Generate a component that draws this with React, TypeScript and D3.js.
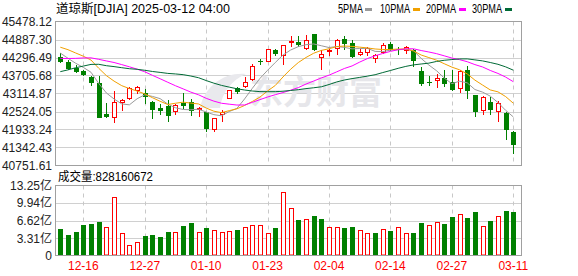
import React, { useEffect } from 'react';
import * as d3 from 'd3';

// ---------- data ----------
const dates = [
  '12-11','12-12','12-13','12-16','12-17','12-18','12-19','12-20','12-23','12-24',
  '12-26','12-27','12-30','12-31','01-02','01-03','01-06','01-07','01-08','01-10',
  '01-13','01-14','01-15','01-16','01-17','01-21','01-22','01-23','01-24','01-27',
  '01-28','01-29','01-30','01-31','02-03','02-04','02-05','02-06','02-07','02-10',
  '02-11','02-12','02-13','02-14','02-18','02-19','02-20','02-21','02-24','02-25',
  '02-26','02-27','02-28','03-03','03-04','03-05','03-06','03-07','03-10','03-11'
];
const opens = [
  44300,44160,43950,43850,43670,43470,42440,42300,42810,42930,
  43210,43140,42850,42630,42690,42510,42800,42850,42560,42500,
  41920,42400,42940,43280,43320,43560,44180,44150,44550,44330,
  44780,44820,44560,45070,44270,44490,44560,44910,44780,44380,
  44450,44250,44440,44745,44580,44510,44530,43840,43480,43520,
  43630,43490,43270,43890,43050,42530,42850,42500,42490,41840
];
const highs = [
  44440,44220,44060,43870,43700,43690,42800,43210,42950,43320,
  43360,43250,42860,42780,42910,42760,43130,42920,42660,42510,
  42320,42580,43240,43320,43650,44090,44240,44570,44560,44720,
  44990,44990,45020,45080,44530,44570,44890,44990,44860,44580,
  44640,44420,44770,44820,44640,44670,44580,43980,43700,43760,
  43870,43890,43870,44020,43080,43020,43000,42870,42510,41870
];
const lows = [
  44120,43880,43800,43700,43360,42300,42300,42140,42540,42900,
  43100,42780,42270,42420,42170,42420,42610,42370,42330,41840,
  41840,42170,42920,43100,43310,43540,44050,44140,44330,44060,
  44640,44640,44550,44520,43880,44340,44380,44550,44290,44330,
  44340,44110,44420,44500,44380,44400,44000,43360,43360,43290,
  43320,43210,43120,42920,42330,42420,42400,42170,41600,41130
];
const closes = [
  44148.56,43914.12,43828.06,43717.48,43449.90,42326.87,42342.24,42840.26,42906.95,43297.03,
  43325.80,42992.21,42573.73,42544.22,42392.27,42732.13,42706.56,42528.36,42635.20,41938.45,
  42297.12,42518.28,43221.55,43153.13,43487.83,44025.81,44156.73,44565.07,44424.25,44713.58,
  44850.35,44713.52,44882.13,44544.66,44421.91,44556.04,44873.28,44747.63,44303.40,44470.41,
  44593.65,44368.56,44711.43,44546.08,44556.34,44627.59,44176.65,43428.02,43461.21,43621.16,
  43433.12,43239.50,43840.91,43191.24,42520.99,43006.59,42579.08,42801.72,41911.71,41433.48
];
// closes of the 29 sessions before the first visible candle (for moving averages)
const priorCloses = [
  42141.54,41763.46,42052.19,41794.60,42221.88,43729.93,43729.34,43988.99,44293.13,43910.98,
  43958.19,43750.86,43444.99,43389.60,43268.94,43408.47,43870.35,44296.51,44736.57,44860.31,
  44722.06,44910.65,44782.00,44705.53,45014.04,44765.71,44642.52,44401.93,44247.83
];
// volume in 亿
const volumes = [
  5.11,3.79,4.54,5.68,5.93,6.25,5.43,11.1,4.29,2.02,
  2.59,3.6,3.79,3.41,4.54,4.48,5.49,6.06,4.48,5.3,
  4.86,4.48,4.67,4.92,5.43,5.81,5.81,4.35,5.3,12.05,
  9.02,6.81,6.94,7.57,7.0,5.43,5.43,5.3,5.43,4.86,
  4.29,4.35,5.05,4.73,5.43,4.35,4.35,6.06,5.81,6.37,
  5.87,7.38,7.89,7.19,8.14,5.62,6.44,7.51,8.33,8.28
];
const priceTicks = [45478.12,44887.30,44296.49,43705.68,43114.87,42524.05,41933.24,41342.43,40751.61];
const volumeTicks = [13.25,9.94,6.62,3.31,0];
const volumeTickLabels = ['13.25亿','9.94亿','6.62亿','3.31亿','0'];
const xTickDates = ['12-16','12-27','01-10','01-23','02-04','02-14','02-27','03-11'];
const maPeriods = [5,10,20,30];
const maNames = ['5PMA','10PMA','20PMA','30PMA'];
const maColors = ['#9a9a9a','#f0a000','#ff00ff','#006a36'];
const titleText = '道琼斯[DJIA] 2025-03-12 04:00';
const volumeText = '成交量:828160672';

// ---------- layout ----------
const W = 578, H = 276;
const PL = 55.5, PR = 521.5;
const PT = 21.5, PB = 165.5;
const VT = 185.5, VB = 255.5;
const RED = '#ff0000', GREEN = '#008000';
const FONT = "'Liberation Sans', Arial, 'Noto Sans CJK SC', sans-serif";

export default function App() {
  useEffect(() => { document.body.style.margin = '0'; }, []);

  const x = d3.scaleLinear().domain([0, dates.length - 1]).range([60.3, 513.3]);
  const y = d3.scaleLinear().domain([priceTicks[priceTicks.length - 1], priceTicks[0]]).range([PB, PT]);
  const vy = d3.scaleLinear().domain([0, volumeTicks[0]]).range([VB, VT]);

  const all = priorCloses.concat(closes);
  const off = priorCloses.length;
  const mas = maPeriods.map(p =>
    closes.map((_, i) => {
      const end = off + i + 1;
      return d3.mean(all.slice(end - p, end)) as number;
    })
  );
  const line = d3.line<number>().x((_, i) => x(i)).y(d => y(d));

  const px = (i: number) => Math.round(x(i));
  const tickIdx = xTickDates.map(d => dates.indexOf(d));

  return (
    <svg width={W} height={H} style={{ position: 'absolute', left: 0, top: 0, display: 'block', background: '#fff' }}
      fontFamily={FONT}>
      <defs>
        <clipPath id="pc"><rect x={PL} y={PT} width={PR - PL} height={PB - PT} /></clipPath>
      </defs>
      <rect x={0} y={0} width={W} height={H} fill="#fff" />

      {/* title */}
      <text x={56} y={12.5} fontSize={12} fill="#000" textLength={174} lengthAdjust="spacingAndGlyphs">{titleText}</text>

      {/* legend */}
      {[
        [338, 365], [380, 413], [426, 459], [472, 505]
      ].map(([tx, sx], k) => (
        <g key={k}>
          <text x={tx} y={13} fontSize={12} fill="#000" textLength={k === 0 ? 25 : 30} lengthAdjust="spacingAndGlyphs">{maNames[k]}</text>
          <rect x={sx} y={8} width={7} height={3} fill={maColors[k]} />
        </g>
      ))}

      {/* price grid */}
      {priceTicks.map((t, k) => (
        <g key={k}>
          {k > 0 && k < priceTicks.length - 1 && (
            <line x1={PL} x2={PR} y1={Math.round(y(t)) + 0.5} y2={Math.round(y(t)) + 0.5} stroke="#d0d0d0" />
          )}
          <text x={52} y={y(t) + 4.5} fontSize={12} textAnchor="end" fill="#222">{t.toFixed(2)}</text>
        </g>
      ))}
      {tickIdx.map((i, k) => (
        <line key={k} x1={px(i) + 0.5} x2={px(i) + 0.5} y1={PT} y2={PB} stroke="#c8c8c8" strokeDasharray="4,4" />
      ))}

      {/* watermark */}
      <text x={250} y={104} fontSize={33} fontWeight="bold" fill="#e6e6ea" fontFamily="'Noto Sans CJK SC', sans-serif">东方财富</text>
      <path d="M200,108 C205,85 225,72 246,74 C232,80 222,92 220,108 Z" fill="#e9e9ed" />

      {/* candles */}
      {closes.map((c, i) => {
        const o = opens[i];
        const cx = px(i);
        const up = c >= o;
        const top = Math.round(y(Math.max(o, c)));
        const bot = Math.round(y(Math.min(o, c)));
        const hy = Math.round(y(highs[i]));
        const ly = Math.round(y(lows[i]));
        if (up) {
          return (
            <g key={i}>
              <line x1={cx + 0.5} x2={cx + 0.5} y1={hy} y2={top} stroke={RED} />
              <line x1={cx + 0.5} x2={cx + 0.5} y1={bot} y2={ly} stroke={RED} />
              <rect x={cx - 1.5} y={top + 0.5} width={4} height={Math.max(1, bot - top - 1)} fill="#fff" stroke={RED} />
            </g>
          );
        }
        return (
          <g key={i}>
            <line x1={cx + 0.5} x2={cx + 0.5} y1={hy} y2={ly} stroke={GREEN} />
            <rect x={cx - 2} y={top} width={5} height={Math.max(1, bot - top)} fill={GREEN} />
          </g>
        );
      })}

      {/* moving averages */}
      <g clipPath="url(#pc)">
        {mas.map((m, k) => (
          <path key={k} d={line(m) || ''} fill="none" stroke={maColors[k]} strokeWidth={1} />
        ))}
      </g>

      <rect x={PL} y={PT} width={PR - PL} height={PB - PT} fill="none" stroke="#a0a0a0" />

      {/* volume panel */}
      <text x={58} y={181} fontSize={12} fill="#000" textLength={95} lengthAdjust="spacingAndGlyphs">{volumeText}</text>
      {volumeTicks.map((t, k) => (
        <g key={k}>
          {k > 0 && k < volumeTicks.length - 1 && (
            <line x1={PL} x2={PR} y1={Math.round(vy(t)) + 0.5} y2={Math.round(vy(t)) + 0.5} stroke="#d0d0d0" />
          )}
          <text x={52} y={vy(t) + 4.5} fontSize={12} textAnchor="end" fill="#222">{volumeTickLabels[k]}</text>
        </g>
      ))}
      {tickIdx.map((i, k) => (
        <line key={k} x1={px(i) + 0.5} x2={px(i) + 0.5} y1={VT} y2={VB} stroke="#c8c8c8" strokeDasharray="4,4" />
      ))}
      {volumes.map((v, i) => {
        const prev = i === 0 ? priorCloses[priorCloses.length - 1] : closes[i - 1];
        const up = closes[i] >= prev;
        const cx = px(i);
        const top = Math.round(vy(v));
        if (up) {
          return <rect key={i} x={cx - 1.5} y={top + 0.5} width={4} height={VB - top - 1} fill="#fff" stroke={RED} />;
        }
        return <rect key={i} x={cx - 2} y={top} width={5} height={VB - top} fill={GREEN} />;
      })}
      <rect x={PL} y={VT} width={PR - PL} height={VB - VT} fill="none" stroke="#a0a0a0" />

      {/* x axis labels */}
      {tickIdx.map((i, k) => (
        <text key={k} x={x(i)} y={270} fontSize={12} textAnchor="middle" fill={RED}>{xTickDates[k]}</text>
      ))}
    </svg>
  );
}
